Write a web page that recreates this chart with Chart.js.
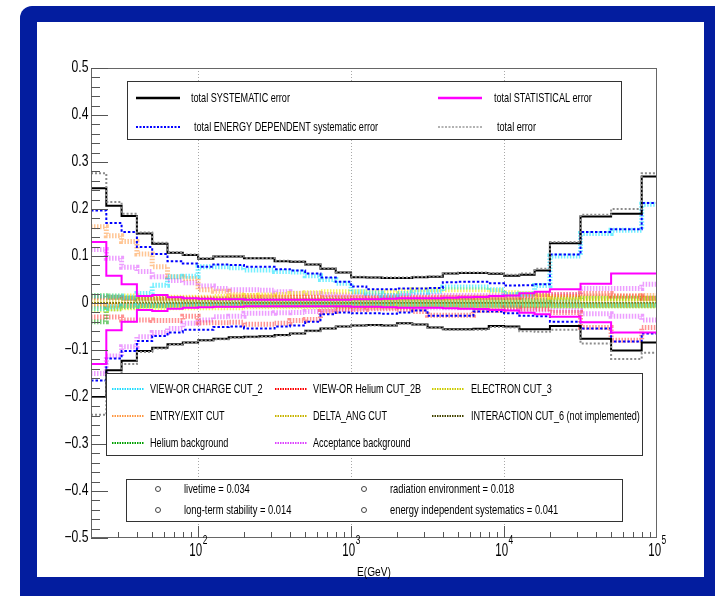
<!DOCTYPE html>
<html><head><meta charset="utf-8">
<script src="https://cdn.jsdelivr.net/npm/chart.js@4.4.1/dist/chart.umd.min.js"></script>
<style>html,body{margin:0;padding:0;background:#fff}canvas{display:block}</style>
</head><body>
<canvas id="c" width="715" height="596"></canvas>
<script>
// ---------- DATA ----------
// histogram bin edges in E (GeV)
const binEdges = [19.95, 25.12, 31.62, 39.81, 50.12, 63.10, 79.43,
  100, 125.9, 158.5, 199.5, 251.2, 316.2, 398.1, 501.2, 631.0, 794.3,
  1000, 1259, 1585, 1995, 2512, 3162, 3981, 5012, 6310, 7943,
  10000, 12589, 15849, 19953, 31623, 50119, 79433, 125893];
const underflowEdge = 15.85;

const sysUp  = [0.244,0.207,0.185,0.148,0.126,0.107,0.102,0.094,0.099,0.099, 0.095,0.095,0.089,0.088,0.082,0.073,0.065,0.055,0.054,0.053, 0.053,0.055,0.056,0.063,0.064,0.064,0.062,0.058,0.060,0.069, 0.127,0.184,0.190,0.269];
const sysLow = [-0.200,-0.143,-0.123,-0.102,-0.095,-0.088,-0.084,-0.079,-0.076,-0.073, -0.072,-0.071,-0.068,-0.065,-0.059,-0.054,-0.050,-0.048,-0.047,-0.048, -0.043,-0.046,-0.052,-0.056,-0.056,-0.055,-0.049,-0.050,-0.056,-0.056, -0.049,-0.076,-0.101,-0.084];
const totUp  = [0.276,0.215,0.190,0.150,0.128,0.108,0.103,0.095,0.100,0.100, 0.096,0.096,0.090,0.089,0.083,0.074,0.066,0.056,0.055,0.054, 0.054,0.056,0.057,0.064,0.065,0.065,0.064,0.060,0.063,0.073, 0.130,0.188,0.200,0.276];
const totLow = [-0.238,-0.155,-0.130,-0.104,-0.097,-0.089,-0.085,-0.080,-0.077,-0.074, -0.073,-0.072,-0.069,-0.066,-0.060,-0.055,-0.051,-0.049,-0.048,-0.049, -0.044,-0.047,-0.053,-0.057,-0.057,-0.057,-0.051,-0.052,-0.060,-0.061, -0.057,-0.086,-0.119,-0.106];
const edUp   = [0.197,0.170,0.151,0.119,0.104,0.089,0.084,0.077,0.082,0.081, 0.077,0.077,0.072,0.069,0.063,0.054,0.045,0.035,0.029,0.029, 0.031,0.031,0.032,0.044,0.045,0.045,0.042,0.037,0.038,0.040, 0.103,0.151,0.157,0.213];
const edLow  = [-0.165,-0.118,-0.102,-0.081,-0.070,-0.063,-0.057,-0.057,-0.051,-0.050, -0.054,-0.054,-0.050,-0.048,-0.040,-0.024,-0.020,-0.022,-0.022,-0.023, -0.020,-0.016,-0.027,-0.027,-0.027,-0.018,-0.018,-0.022,-0.027,-0.028, -0.040,-0.054,-0.082,-0.065];
const statUp = [0.130,0.058,0.040,0.015,0.017,0.012,0.010,0.009,0.008,0.008, 0.007,0.007,0.007,0.007,0.007,0.007,0.007,0.008,0.008,0.009, 0.010,0.010,0.010,0.011,0.012,0.013,0.015,0.016,0.021,0.024, 0.029,0.041,0.063,0.063];
const statLow= [-0.130,-0.058,-0.040,-0.015,-0.017,-0.012,-0.010,-0.009,-0.008,-0.008, -0.007,-0.007,-0.007,-0.007,-0.007,-0.007,-0.007,-0.008,-0.008,-0.009, -0.010,-0.010,-0.010,-0.011,-0.012,-0.013,-0.015,-0.016,-0.021,-0.024, -0.029,-0.041,-0.063,-0.063];
const statUnderflow = [0.152, -0.900];

const chargeUp  = [0.015,0.015,0.012,0.020,0.038,0.056,0.057,0.077,0.077,0.075, 0.070,0.070,0.067,0.066,0.058,0.050,0.042,0.024,0.021,0.016, 0.020,0.023,0.025,0.034,0.034,0.034,0.028,0.018,0.019,0.037, 0.100,0.148,0.155,0.210];
const chargeLow = [-0.012,-0.008,-0.006,-0.005,-0.005,-0.004,-0.004,-0.004,-0.004,-0.004, -0.004,-0.004,-0.004,-0.004,-0.004,-0.004,-0.004,-0.004,-0.004,-0.004, -0.004,-0.004,-0.004,-0.004,-0.004,-0.004,-0.004,-0.004,-0.004,-0.004, -0.004,-0.004,-0.004,-0.004];
const heCutUp   = [0.012,0.012,0.010,0.010,0.010,0.010,0.010,0.010,0.010,0.012, 0.012,0.012,0.012,0.012,0.012,0.012,0.012,0.012,0.012,0.012, 0.012,0.012,0.012,0.012,0.012,0.012,0.012,0.012,0.015,0.018, 0.018,0.020,0.015,0.010];
const heCutLow  = [-0.030,-0.030,-0.036,-0.036,-0.037,-0.037,-0.028,-0.042,-0.042,-0.041, -0.045,-0.045,-0.043,-0.037,-0.035,-0.018,-0.014,-0.014,-0.012,-0.012, -0.014,-0.018,-0.026,-0.026,-0.026,-0.016,-0.016,-0.010,-0.013,-0.013, -0.020,-0.052,-0.079,-0.052];
const electronUp  = [0.015,0.015,0.015,0.012,0.012,0.012,0.012,0.012,0.014,0.015, 0.016,0.017,0.018,0.020,0.022,0.024,0.024,0.024,0.024,0.024, 0.026,0.028,0.028,0.028,0.028,0.028,0.026,0.022,0.020,0.015, 0.012,0.010,0.010,0.010];
const electronLow = [-0.015,-0.012,-0.010,-0.010,-0.010,-0.010,-0.010,-0.010,-0.010,-0.010, -0.008,-0.008,-0.008,-0.008,-0.008,-0.008,-0.008,-0.008,-0.008,-0.008, -0.006,-0.006,-0.006,-0.006,-0.006,-0.006,-0.006,-0.006,-0.006,-0.006, -0.006,-0.006,-0.006,-0.006];
const entryUp  = [0.162,0.143,0.131,0.104,0.077,0.056,0.052,0.028,0.025,0.018, 0.016,0.015,0.013,0.012,0.011,0.010,0.010,0.010,0.010,0.010, 0.010,0.010,0.010,0.011,0.011,0.012,0.012,0.012,0.012,0.013, 0.014,0.015,0.015,0.016];
const entryLow = [-0.008,-0.006,-0.005,-0.004,-0.004,-0.004,-0.004,-0.004,-0.004,-0.004, -0.004,-0.004,-0.004,-0.004,-0.004,-0.004,-0.004,-0.004,-0.004,-0.004, -0.004,-0.004,-0.004,-0.004,-0.004,-0.004,-0.004,-0.004,-0.004,-0.004, -0.004,-0.004,-0.004,-0.004];
const deltaUp  = [0.004,0.004,0.004,0.004,0.004,0.004,0.004,0.004,0.004,0.004, 0.004,0.004,0.004,0.004,0.004,0.004,0.004,0.004,0.004,0.004, 0.004,0.004,0.004,0.004,0.004,0.004,0.004,0.004,0.004,0.004, 0.004,0.004,0.004,0.004];
const deltaLow = [-0.004,-0.004,-0.004,-0.004,-0.004,-0.004,-0.004,-0.004,-0.004,-0.004, -0.004,-0.004,-0.004,-0.004,-0.004,-0.004,-0.004,-0.004,-0.004,-0.004, -0.004,-0.004,-0.004,-0.004,-0.004,-0.004,-0.004,-0.004,-0.004,-0.004, -0.004,-0.004,-0.004,-0.004];
const interactionVals = [0,0,0,0,0,0,0,0,0,0, 0,0,0,0,0,0,0,0,0,0, 0,0,0,0,0,0,0,0,0,0, 0,0,0,0];
const heBkgUp  = [0.015,0.012,0.010,0.008,0.008,0.008,0.007,0.007,0.007,0.007, 0.006,0.006,0.006,0.006,0.006,0.006,0.006,0.006,0.006,0.006, 0.006,0.006,0.006,0.006,0.006,0.006,0.006,0.006,0.006,0.006, 0.008,0.010,0.010,0.010];
const heBkgLow = [-0.040,-0.012,-0.008,-0.006,-0.006,-0.005,-0.005,-0.005,-0.005,-0.005, -0.005,-0.005,-0.005,-0.005,-0.005,-0.005,-0.005,-0.005,-0.005,-0.005, -0.005,-0.005,-0.005,-0.005,-0.005,-0.005,-0.005,-0.005,-0.005,-0.005, -0.006,-0.006,-0.006,-0.006];
const accUp  = [0.114,0.095,0.076,0.067,0.056,0.048,0.043,0.036,0.031,0.028, 0.028,0.027,0.024,0.021,0.020,0.018,0.017,0.017,0.016,0.016, 0.016,0.016,0.016,0.016,0.016,0.016,0.016,0.017,0.017,0.017, 0.017,0.031,0.031,0.040];
const accLow = [-0.150,-0.113,-0.093,-0.072,-0.063,-0.054,-0.043,-0.036,-0.029,-0.028, -0.022,-0.022,-0.021,-0.020,-0.018,-0.015,-0.013,-0.011,-0.010,-0.010, -0.010,-0.010,-0.010,-0.010,-0.010,-0.010,-0.010,-0.012,-0.014,-0.015, -0.016,-0.023,-0.028,-0.036];

const constNames  = ['livetime', 'radiation environment', 'long-term stability', 'energy independent systematics'];
const constValues = ['0.034', '0.018', '0.014', '0.041'];

const yTickValues = [0.5, 0.4, 0.3, 0.2, 0.1, 0, -0.1, -0.2, -0.3, -0.4, -0.5];
const yTickLabels = ['0.5', '0.4', '0.3', '0.2', '0.1', '0', '\u22120.1', '\u22120.2', '\u22120.3', '\u22120.4', '\u22120.5'];
const xTickValues = [100, 1000, 10000, 100000];
const xTickExps   = ['2', '3', '4', '5'];
const xTitle = 'E(GeV)';

// ---------- STYLES ----------
const series = [
  {label:'total error', up:totUp, low:totLow, color:'rgba(140,140,140,1)', lcolor:'#999', w:2, dash:[2,2], lw:1.5, ldash:[2,1.5]},
  {label:'total SYSTEMATIC error', up:sysUp, low:sysLow, color:'#000', lcolor:'#000', w:2, dash:[], lw:2.5, ldash:[]},
  {label:'total STATISTICAL error', up:statUp, low:statLow, color:'#ff00ff', lcolor:'#ff00ff', w:2, dash:[], lw:2.5, ldash:[], under:statUnderflow},
  {label:'total ENERGY DEPENDENT systematic error', up:edUp, low:edLow, color:'#0000ff', lcolor:'#0000ff', w:2, dash:[2.5,2], lw:2, ldash:[2,1.5]},
  {label:'VIEW-OR CHARGE CUT_2', up:chargeUp, low:chargeLow, color:'rgba(0,225,255,0.55)', lcolor:'#22ddff', w:5, dash:[1.5,1.5], lw:2, ldash:[1.5,1]},
  {label:'VIEW-OR Helium CUT_2B', up:heCutUp, low:heCutLow, color:'rgba(255,40,40,0.5)', lcolor:'#ff0000', w:5, dash:[1.5,1.5], lw:2, ldash:[1.5,1]},
  {label:'ELECTRON CUT_3', up:electronUp, low:electronLow, color:'rgba(240,240,0,0.6)', lcolor:'#cccc00', w:5, dash:[1.5,1.5], lw:2, ldash:[1.5,1]},
  {label:'ENTRY/EXIT CUT', up:entryUp, low:entryLow, color:'rgba(255,140,40,0.5)', lcolor:'#ff9944', w:5, dash:[1.5,1.5], lw:2, ldash:[1.5,1]},
  {label:'DELTA_ANG CUT', up:deltaUp, low:deltaLow, color:'rgba(200,180,0,0.55)', lcolor:'#c8b400', w:5, dash:[1.5,1.5], lw:2, ldash:[1.5,1]},
  {label:'INTERACTION CUT_6 (not implemented)', up:interactionVals, low:interactionVals, color:'rgba(70,70,20,0.8)', lcolor:'#444400', w:2, dash:[2,1], lw:2, ldash:[1.5,1]},
  {label:'Helium background', up:heBkgUp, low:heBkgLow, color:'rgba(0,160,0,0.55)', lcolor:'#00a000', w:5, dash:[1.5,1.5], lw:2, ldash:[1.5,1]},
  {label:'Acceptance background', up:accUp, low:accLow, color:'rgba(220,60,255,0.5)', lcolor:'#dd44ff', w:5, dash:[1.5,1.5], lw:2, ldash:[1.5,1]}
];
const byLabel = {}; series.forEach(s => byLabel[s.label] = s);

function stepPoints(vals, under) {
  const pts = [];
  if (under !== undefined) pts.push({x: underflowEdge, y: under});
  vals.forEach((v, i) => pts.push({x: binEdges[i], y: v}));
  pts.push({x: binEdges[vals.length], y: vals[vals.length - 1]});
  return pts;
}
const datasets = [];
series.forEach(s => {
  [['up', 0], ['low', 1]].forEach(([k, ui]) => {
    datasets.push({
      label: s.label, data: stepPoints(s[k], s.under ? s.under[ui] : undefined),
      borderColor: s.color, borderWidth: s.w, borderDash: s.dash,
      stepped: 'before', pointRadius: 0, fill: false, tension: 0
    });
  });
});

// ---------- DRAWING HELPERS ----------
const FONT = '"Liberation Sans", Arial, Helvetica, sans-serif';
function ctext(c, str, x, y, size, align, sx) {
  c.save();
  c.font = size + 'px ' + FONT;
  c.textBaseline = 'middle';
  c.textAlign = align;
  c.fillStyle = '#000';
  c.translate(x, y); c.scale(sx, 1);
  c.fillText(str, 0, 0);
  c.restore();
}
function twidth(c, str, size, sx) { c.save(); c.font = size + 'px ' + FONT; const w = c.measureText(str).width * sx; c.restore(); return w; }
function sample(c, s, x1, x2, y) {
  c.save(); c.strokeStyle = s.lcolor; c.lineWidth = s.lw; c.setLineDash(s.ldash);
  c.beginPath(); c.moveTo(x1, y); c.lineTo(x2, y); c.stroke(); c.restore();
}
function box(c, x, y, w, h) {
  c.save(); c.fillStyle = '#fff'; c.fillRect(x, y, w, h);
  c.strokeStyle = '#333'; c.lineWidth = 1; c.strokeRect(x + 0.5, y + 0.5, w, h); c.restore();
}

const rootPlugin = {
  id: 'rootStyle',
  beforeDraw(chart) {
    const c = chart.ctx;
    c.save();
    c.fillStyle = '#fff'; c.fillRect(0, 0, chart.width, chart.height);
    c.fillStyle = '#031d9f';
    c.beginPath();
    c.moveTo(32, 6); c.lineTo(740, 6); c.lineTo(740, 620); c.lineTo(20, 620); c.lineTo(20, 18);
    c.arcTo(20, 6, 32, 6, 12); c.closePath(); c.fill();
    c.fillStyle = '#fff'; c.fillRect(37, 22, 667, 555);
    c.restore();
  },
  beforeDatasetsDraw(chart) {
    const c = chart.ctx, xs = chart.scales.x, a = chart.chartArea;
    c.save(); c.strokeStyle = '#a8a8a8'; c.lineWidth = 1; c.setLineDash([1, 2]);
    xTickValues.forEach(v => {
      if (v >= 100000) return;
      const px = Math.round(xs.getPixelForValue(v)) + 0.5;
      c.beginPath(); c.moveTo(px, a.top); c.lineTo(px, a.bottom); c.stroke();
    });
    c.restore();
  },
  afterDatasetsDraw(chart) {
    const c = chart.ctx, xs = chart.scales.x, ys = chart.scales.y, a = chart.chartArea;
    // frame
    c.save();
    c.strokeStyle = '#666'; c.lineWidth = 1;
    c.strokeRect(a.left + 0.5, a.top + 0.5, a.right - a.left - 1, a.bottom - a.top - 1);
    // y ticks
    c.strokeStyle = '#555';
    for (let k = -25; k <= 25; k++) {
      const py = Math.round(ys.getPixelForValue(k * 0.02)) + 0.5;
      const len = (k % 5 === 0) ? 17 : 9;
      c.beginPath(); c.moveTo(a.left, py); c.lineTo(a.left + len, py); c.stroke();
    }
    // x ticks
    for (let d = 1; d <= 4; d++) {
      for (let m = 1; m <= 9; m++) {
        const v = m * Math.pow(10, d);
        if (v <= 20 || v >= 100000) continue;
        const px = Math.round(xs.getPixelForValue(v)) + 0.5;
        const len = (m === 1) ? 12 : 6;
        c.beginPath(); c.moveTo(px, a.bottom); c.lineTo(px, a.bottom - len); c.stroke();
      }
    }
    c.restore();
    // y labels
    yTickValues.forEach((v, i) => ctext(c, yTickLabels[i], 88.5, ys.getPixelForValue(v), 16, 'right', 0.76));
    // x labels
    xTickValues.forEach((v, i) => {
      const px = xs.getPixelForValue(v);
      const wb = twidth(c, '10', 18, 0.64), we = twidth(c, xTickExps[i], 12, 0.7);
      const x0 = px - (wb + we) / 2;
      ctext(c, '10', x0, 551, 18, 'left', 0.64);
      ctext(c, xTickExps[i], x0 + wb + 0.5, 541, 12, 'left', 0.7);
    });
    ctext(c, xTitle, (a.left + a.right) / 2, 572, 13, 'center', 0.78);

    // legend 1
    box(c, 127, 81, 494, 58);
    const L1 = [['total SYSTEMATIC error', 136, 180, 191, 98], ['total STATISTICAL error', 438, 482, 494, 98],
                ['total ENERGY DEPENDENT systematic error', 136, 180, 194, 127], ['total error', 438, 482, 497, 127]];
    L1.forEach(([lab, x1, x2, tx, y]) => { sample(c, byLabel[lab], x1, x2, y); ctext(c, lab, tx, y, 13, 'left', 0.7); });

    // legend 2
    box(c, 106, 373, 536, 82);
    const L2 = ['VIEW-OR CHARGE CUT_2', 'VIEW-OR Helium CUT_2B', 'ELECTRON CUT_3',
                'ENTRY/EXIT CUT', 'DELTA_ANG CUT', 'INTERACTION CUT_6 (not implemented)',
                'Helium background', 'Acceptance background'];
    const colX = [[112, 144, 150], [275, 307, 313], [432, 464, 471]];
    const rowY = [389, 416, 443];
    L2.forEach((lab, i) => {
      const [x1, x2, tx] = colX[i % 3], y = rowY[Math.floor(i / 3)];
      sample(c, byLabel[lab], x1, x2, y); ctext(c, lab, tx, y, 13, 'left', 0.7);
    });

    // legend 3
    box(c, 126, 479, 496, 42);
    const mX = [[158, 184], [364, 390]], mY = [489, 510];
    constNames.forEach((n, i) => {
      const [mx, tx] = mX[i % 2], y = mY[Math.floor(i / 2)];
      c.save(); c.strokeStyle = '#444'; c.lineWidth = 1; c.beginPath(); c.arc(mx, y, 2.5, 0, Math.PI * 2); c.stroke(); c.restore();
      ctext(c, n + ' = ' + constValues[i], tx, y, 13, 'left', 0.72);
    });
  }
};

new Chart(document.getElementById('c'), {
  type: 'line',
  data: { datasets },
  options: {
    responsive: false, animation: false, devicePixelRatio: 1,
    layout: { padding: { left: 91, top: 68, right: 58, bottom: 58 } },
    scales: {
      x: { type: 'logarithmic', min: 19.95, max: 100000, display: false },
      y: { type: 'linear', min: -0.5, max: 0.5, display: false }
    },
    plugins: { legend: { display: false }, tooltip: { enabled: false } },
    elements: { line: { tension: 0 }, point: { radius: 0 } }
  },
  plugins: [rootPlugin]
});
</script>
</body></html>
